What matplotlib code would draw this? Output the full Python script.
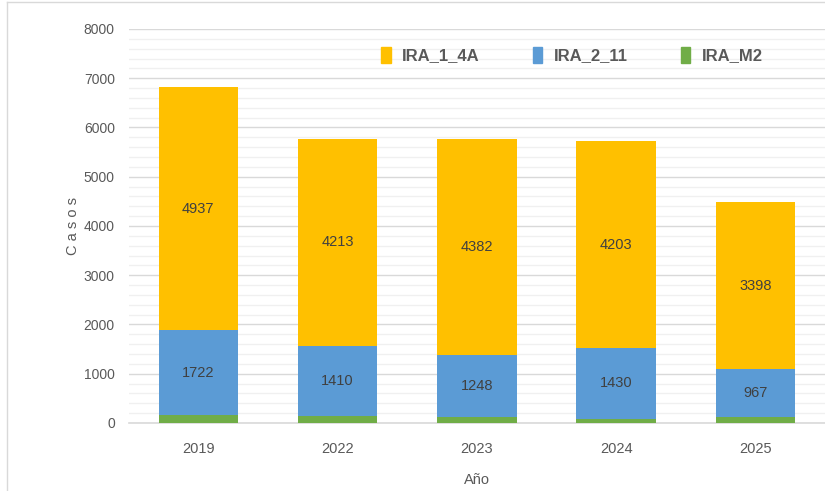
import matplotlib.pyplot as plt
import numpy as np
from matplotlib.lines import Line2D

plt.rcParams['font.family'] = ['Liberation Sans', 'DejaVu Sans']

anios = ["2019", "2022", "2023", "2024", "2025"]
ira_m2 = [160, 150, 130, 90, 120]
ira_2_11 = [1722, 1410, 1248, 1430, 967]
ira_1_4a = [4937, 4213, 4382, 4203, 3398]

c_amar = "#ffc000"
c_azul = "#5b9bd5"
c_verde = "#70ad47"
gris = "#595959"

fig = plt.figure(figsize=(8.25, 4.91), dpi=100)
ax = fig.add_axes([0.156, 0.1385, 0.844, 0.8025])

x = np.arange(len(anios))
w = 0.57
m2 = np.array(ira_m2)
a211 = np.array(ira_2_11)
a14 = np.array(ira_1_4a)

ax.bar(x, m2, w, color=c_verde, zorder=3)
ax.bar(x, a211, w, bottom=m2, color=c_azul, zorder=3)
ax.bar(x, a14, w, bottom=m2 + a211, color=c_amar, zorder=3)

for i in range(len(anios)):
    ax.text(x[i], m2[i] + a211[i] / 2, str(a211[i]), ha="center", va="center",
            fontsize=10.5, color="#404040", zorder=4)
    ax.text(x[i], m2[i] + a211[i] + a14[i] / 2, str(a14[i]), ha="center", va="center",
            fontsize=10.5, color="#404040", zorder=4)

ax.set_xlim(-0.5, len(anios) - 0.5)
ax.set_ylim(0, 8000)
ax.set_yticks(range(0, 8001, 1000))
ax.set_yticks(range(0, 8001, 200), minor=True)
ax.grid(axis="y", which="major", color="#d9d9d9", lw=1, zorder=0)
ax.grid(axis="y", which="minor", color="#f0f0f0", lw=1, zorder=0)
ax.set_xticks(x)
ax.set_xticklabels(anios)
ax.tick_params(axis="both", which="both", length=0, labelsize=10.5, colors=gris)
ax.tick_params(axis="y", pad=10, labelsize=10)
ax.tick_params(axis="x", pad=14)
for s in ["top", "right", "left"]:
    ax.spines[s].set_visible(False)
ax.spines["bottom"].set_color("#d9d9d9")
ax.spines["bottom"].set_linewidth(1.2)

ax.set_ylabel("C a s o s", fontsize=10.5, color=gris)
ax.yaxis.set_label_coords(-0.07, 0.5)
ax.set_xlabel("Año", fontsize=10.5, color=gris, labelpad=12)

handles = [plt.Rectangle((0, 0), 1, 1, color=c) for c in (c_amar, c_azul, c_verde)]
leg = ax.legend(handles, ["IRA_1_4A", "IRA_2_11", "IRA_M2"], loc="center",
                bbox_to_anchor=(0.637, 0.934), ncol=3, frameon=False,
                handlelength=0.55, handleheight=1.1, handletextpad=0.7,
                columnspacing=3.2, prop={"size": 12, "weight": "bold"})
for t in leg.get_texts():
    t.set_color(gris)

fig.add_artist(Line2D([0.008, 0.008], [0, 0.995], transform=fig.transFigure,
                      color="#d9d9d9", lw=1))
fig.add_artist(Line2D([0.008, 1], [0.995, 0.995], transform=fig.transFigure,
                      color="#d9d9d9", lw=1))

fig.savefig("out.png", dpi=100)
